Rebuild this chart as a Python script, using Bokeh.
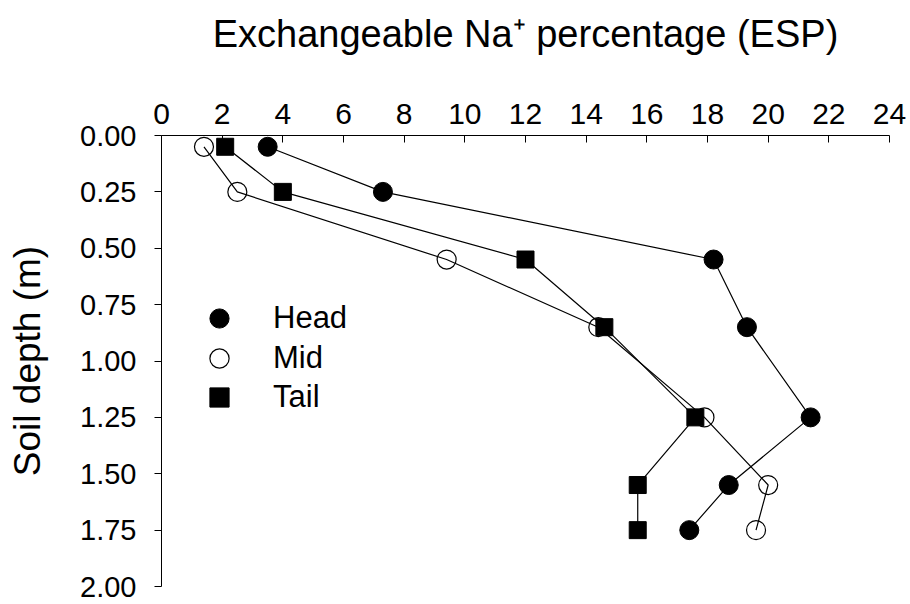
from bokeh.plotting import figure
from bokeh.models import Range1d, FixedTicker, NumeralTickFormatter, Legend, LegendItem
from bokeh.embed import file_html
from bokeh.resources import INLINE

# data
depth = [0.05, 0.25, 0.55, 0.85, 1.25, 1.55, 1.75]
head = [3.5, 7.3, 18.2, 19.3, 21.4, 18.7, 17.4]
mid = [1.4, 2.5, 9.4, 14.4, 17.9, 20.0, 19.6]
tail = [2.1, 4.0, 12.0, 14.6, 17.6, 15.7, 15.7]
series_names = ["Head", "Mid", "Tail"]
x_ticks = [0, 2, 4, 6, 8, 10, 12, 14, 16, 18, 20, 22, 24]
y_ticks = [0.0, 0.25, 0.5, 0.75, 1.0, 1.25, 1.5, 1.75, 2.0]

FONT = "Liberation Sans"

p = figure(width=910, height=604, output_backend="svg", toolbar_location=None,
           x_axis_location="above",
           x_range=Range1d(0, 24), y_range=Range1d(2.0, 0.0),
           min_border_left=161, min_border_top=135, min_border_right=21, min_border_bottom=18)
p.outline_line_color = None
p.xgrid.visible = False
p.ygrid.visible = False
p.background_fill_color = "white"
p.border_fill_color = "white"

xa = p.xaxis[0]
xa.ticker = FixedTicker(ticks=x_ticks)
xa.axis_label = "Exchangeable Na\u207a percentage (ESP)"
xa.axis_label_text_font = FONT
xa.axis_label_text_font_size = "38px"
xa.axis_label_text_font_style = "normal"
xa.axis_label_text_color = "black"
xa.axis_label_standoff = 46
xa.major_label_text_font = FONT
xa.major_label_text_font_size = "30px"
xa.major_label_text_color = "black"
xa.major_label_standoff = 12
xa.major_tick_in = 7
xa.major_tick_out = 0
xa.minor_tick_in = 0
xa.minor_tick_out = 0
xa.axis_line_color = "black"
xa.major_tick_line_color = "black"

ya = p.yaxis[0]
ya.ticker = FixedTicker(ticks=y_ticks)
ya.formatter = NumeralTickFormatter(format="0.00")
ya.axis_label = "Soil depth (m)"
ya.axis_label_text_font = FONT
ya.axis_label_text_font_size = "37px"
ya.axis_label_text_font_style = "normal"
ya.axis_label_text_color = "black"
ya.axis_label_standoff = 29
ya.major_label_text_font = FONT
ya.major_label_text_font_size = "29px"
ya.major_label_text_color = "black"
ya.major_label_standoff = 18
ya.major_tick_in = 0
ya.major_tick_out = 7
ya.minor_tick_in = 0
ya.minor_tick_out = 0
ya.axis_line_color = "black"
ya.major_tick_line_color = "black"

p.line(head, depth, line_color="black", line_width=1.2)
r_head = p.scatter(head, depth, marker="circle", size=19, fill_color="black", line_color="black")
p.line(mid, depth, line_color="black", line_width=1.2)
r_mid = p.scatter(mid, depth, marker="circle", size=19, fill_color=None, line_color="black", line_width=1.2)
p.line(tail, depth, line_color="black", line_width=1.2)
r_tail = p.scatter(tail, depth, marker="square", size=17, fill_color="black", line_color="black")

# one legend per entry so rows can sit 40px apart with full-size markers
for name, r, ypos in zip(series_names, [r_head, r_mid, r_tail], [244, 204, 165]):
    lg = Legend(items=[LegendItem(label=name, renderers=[r])],
                location=(34, ypos), orientation="vertical",
                glyph_width=48, glyph_height=48, label_height=40, spacing=0,
                label_standoff=30, padding=0, margin=0,
                border_line_color=None, background_fill_alpha=0,
                label_text_font=FONT, label_text_font_size="31px", label_text_color="black")
    p.add_layout(lg, "center")

open("out.html", "w").write(file_html(p, INLINE))
